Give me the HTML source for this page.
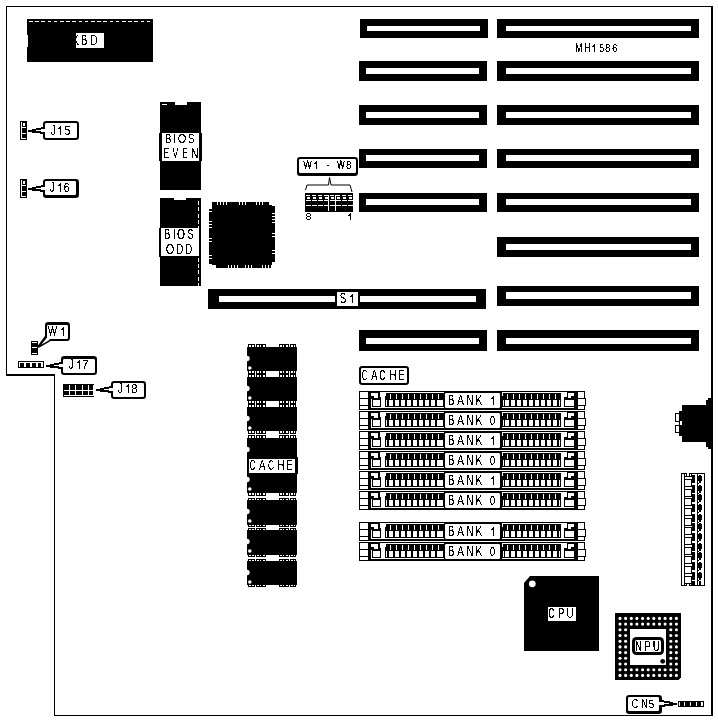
<!DOCTYPE html>
<html><head><meta charset="utf-8"><title>MH1586</title>
<style>
html,body{margin:0;padding:0;background:#fff;}
body{width:718px;height:721px;overflow:hidden;font-family:"Liberation Sans",sans-serif;}
svg{display:block;font-family:"Liberation Sans",sans-serif;}
</style></head><body>
<svg width="718" height="721" viewBox="0 0 718 721" shape-rendering="crispEdges">
<defs><filter id="th" x="0" y="0" width="718" height="721" filterUnits="userSpaceOnUse" color-interpolation-filters="sRGB"><feComponentTransfer><feFuncA type="discrete" tableValues="0 0 0 0 1 1 1 1 1"/></feComponentTransfer></filter></defs>
<rect x="0" y="0" width="718" height="721" fill="#fff"/>
<rect x="6" y="6" width="707" height="1" fill="#000" />
<rect x="6" y="6" width="1" height="369" fill="#000" />
<rect x="6" y="374" width="49" height="2" fill="#000" />
<rect x="54" y="374" width="1" height="342" fill="#000" />
<rect x="54" y="715" width="659" height="1" fill="#000" />
<rect x="711" y="6" width="2" height="710" fill="#000" />
<rect x="27" y="19" width="126" height="43" fill="#000" />
<rect x="29" y="21" width="3.6" height="1" fill="#fff" />
<rect x="35.2" y="21" width="3.6" height="1" fill="#fff" />
<rect x="41.4" y="21" width="3.6" height="1" fill="#fff" />
<rect x="47.6" y="21" width="3.6" height="1" fill="#fff" />
<rect x="53.8" y="21" width="3.6" height="1" fill="#fff" />
<rect x="60" y="21" width="3.6" height="1" fill="#fff" />
<rect x="66.2" y="21" width="3.6" height="1" fill="#fff" />
<rect x="72.4" y="21" width="3.6" height="1" fill="#fff" />
<rect x="78.6" y="21" width="3.6" height="1" fill="#fff" />
<rect x="84.8" y="21" width="3.6" height="1" fill="#fff" />
<rect x="91" y="21" width="3.6" height="1" fill="#fff" />
<rect x="97.2" y="21" width="3.6" height="1" fill="#fff" />
<rect x="103.4" y="21" width="3.6" height="1" fill="#fff" />
<rect x="109.6" y="21" width="3.6" height="1" fill="#fff" />
<rect x="115.8" y="21" width="3.6" height="1" fill="#fff" />
<rect x="122" y="21" width="3.6" height="1" fill="#fff" />
<rect x="128.2" y="21" width="3.6" height="1" fill="#fff" />
<rect x="134.4" y="21" width="3.6" height="1" fill="#fff" />
<rect x="140.6" y="21" width="3.6" height="1" fill="#fff" />
<rect x="146.8" y="21" width="3.6" height="1" fill="#fff" />
<rect x="27" y="35" width="1" height="12" fill="#fff" />
<rect x="76" y="33" width="28" height="15" fill="#fff" rx="1.5"/>
<rect x="70" y="33" width="6" height="15" fill="#000" />
<rect x="497" y="19" width="202" height="19" fill="#000" />
<rect x="506" y="25.5" width="185" height="5.5" fill="#fff" />
<rect x="497" y="61" width="202" height="19.5" fill="#000" />
<rect x="506" y="67.5" width="185" height="6.5" fill="#fff" />
<rect x="497" y="104.5" width="202" height="20" fill="#000" />
<rect x="506" y="111.5" width="185" height="6" fill="#fff" />
<rect x="497" y="148.5" width="202" height="19.5" fill="#000" />
<rect x="506" y="155" width="185" height="6" fill="#fff" />
<rect x="497" y="193" width="202" height="19" fill="#000" />
<rect x="506" y="199" width="185" height="6" fill="#fff" />
<rect x="497" y="237" width="202" height="19.5" fill="#000" />
<rect x="506" y="243.5" width="185" height="6.5" fill="#fff" />
<rect x="497" y="285.5" width="202" height="20" fill="#000" />
<rect x="506" y="292" width="185" height="7" fill="#fff" />
<rect x="497" y="330" width="202" height="20.5" fill="#000" />
<rect x="506" y="337.5" width="185" height="6.5" fill="#fff" />
<rect x="360" y="19" width="128" height="19" fill="#000" />
<rect x="366.7" y="25.5" width="113.3" height="5.5" fill="#fff" />
<rect x="359" y="61" width="128" height="19.5" fill="#000" />
<rect x="366" y="67.5" width="113.3" height="6.5" fill="#fff" />
<rect x="359" y="104.5" width="128" height="20" fill="#000" />
<rect x="366" y="111.5" width="113.3" height="6" fill="#fff" />
<rect x="359" y="148.5" width="128" height="19.5" fill="#000" />
<rect x="366" y="155" width="113.3" height="6" fill="#fff" />
<rect x="359" y="193" width="128" height="19" fill="#000" />
<rect x="366" y="199" width="113.3" height="6" fill="#fff" />
<rect x="359" y="330" width="128" height="20.5" fill="#000" />
<rect x="366" y="337.5" width="113.3" height="6.5" fill="#fff" />
<rect x="208" y="289" width="278.3" height="19.5" fill="#000" />
<rect x="218.5" y="295.5" width="257.2" height="6.5" fill="#fff" />
<rect x="335" y="291" width="25" height="16" fill="#000" />
<rect x="337" y="292" width="21" height="14" fill="#fff" rx="1.5"/>
<rect x="160" y="102" width="41" height="88" fill="#000" />
<rect x="175" y="102" width="12" height="3" fill="#fff" />
<rect x="162" y="104" width="5" height="1" fill="#fff" />
<rect x="159" y="132.5" width="43" height="28.5" fill="#000" />
<rect x="162" y="133" width="37" height="27.5" fill="#fff" />
<rect x="160" y="198" width="41" height="88" fill="#000" />
<rect x="174" y="198" width="12" height="2" fill="#fff" />
<rect x="198" y="201" width="1" height="4" fill="#fff" />
<rect x="198" y="207.3" width="1" height="4" fill="#fff" />
<rect x="198" y="213.6" width="1" height="4" fill="#fff" />
<rect x="198" y="219.9" width="1" height="4" fill="#fff" />
<rect x="198" y="226.2" width="1" height="4" fill="#fff" />
<rect x="198" y="232.5" width="1" height="4" fill="#fff" />
<rect x="198" y="238.8" width="1" height="4" fill="#fff" />
<rect x="198" y="245.1" width="1" height="4" fill="#fff" />
<rect x="198" y="251.4" width="1" height="4" fill="#fff" />
<rect x="198" y="257.7" width="1" height="4" fill="#fff" />
<rect x="198" y="264" width="1" height="4" fill="#fff" />
<rect x="198" y="270.3" width="1" height="4" fill="#fff" />
<rect x="198" y="276.6" width="1" height="4" fill="#fff" />
<rect x="198" y="282.9" width="1" height="4" fill="#fff" />
<rect x="159" y="227.5" width="42" height="29" fill="#000" />
<rect x="161" y="228" width="38" height="28" fill="#fff" />
<rect x="212" y="205" width="60" height="60" fill="#000" />
<rect x="212" y="202" width="57" height="3" fill="#000" />
<rect x="272" y="206" width="3" height="56" fill="#000" />
<rect x="215" y="265" width="56" height="3" fill="#000" />
<rect x="209" y="208" width="3" height="56" fill="#000" />
<rect x="217" y="202" width="1" height="3" fill="#fff" />
<rect x="220" y="202" width="1" height="3" fill="#fff" />
<rect x="223" y="202" width="1" height="3" fill="#fff" />
<rect x="226" y="202" width="1" height="3" fill="#fff" />
<rect x="239" y="202" width="1" height="3" fill="#fff" />
<rect x="242" y="202" width="1" height="3" fill="#fff" />
<rect x="245" y="202" width="1" height="3" fill="#fff" />
<rect x="256" y="202" width="1" height="3" fill="#fff" />
<rect x="259" y="202" width="1" height="3" fill="#fff" />
<rect x="262" y="202" width="1" height="3" fill="#fff" />
<rect x="215" y="265" width="1" height="3" fill="#fff" />
<rect x="228" y="265" width="1" height="3" fill="#fff" />
<rect x="231" y="265" width="1" height="3" fill="#fff" />
<rect x="234" y="265" width="1" height="3" fill="#fff" />
<rect x="237" y="265" width="1" height="3" fill="#fff" />
<rect x="245" y="265" width="1" height="3" fill="#fff" />
<rect x="248" y="265" width="1" height="3" fill="#fff" />
<rect x="251" y="265" width="1" height="3" fill="#fff" />
<rect x="262" y="265" width="1" height="3" fill="#fff" />
<rect x="265" y="265" width="1" height="3" fill="#fff" />
<rect x="268" y="265" width="1" height="3" fill="#fff" />
<rect x="271" y="265" width="1" height="3" fill="#fff" />
<rect x="209" y="208" width="3" height="1" fill="#fff" />
<rect x="209" y="211" width="3" height="1" fill="#fff" />
<rect x="209" y="221" width="3" height="1" fill="#fff" />
<rect x="209" y="224" width="3" height="1" fill="#fff" />
<rect x="209" y="227" width="3" height="1" fill="#fff" />
<rect x="209" y="238" width="3" height="1" fill="#fff" />
<rect x="209" y="241" width="3" height="1" fill="#fff" />
<rect x="209" y="255" width="3" height="1" fill="#fff" />
<rect x="209" y="258" width="3" height="1" fill="#fff" />
<rect x="272" y="213" width="3" height="1" fill="#fff" />
<rect x="272" y="216" width="3" height="1" fill="#fff" />
<rect x="272" y="219" width="3" height="1" fill="#fff" />
<rect x="272" y="222" width="3" height="1" fill="#fff" />
<rect x="272" y="233" width="3" height="1" fill="#fff" />
<rect x="272" y="236" width="3" height="1" fill="#fff" />
<rect x="272" y="250" width="3" height="1" fill="#fff" />
<rect x="272" y="253" width="3" height="1" fill="#fff" />
<rect x="297" y="157" width="61" height="19" fill="#000" rx="3.2" shape-rendering="auto"/>
<rect x="299" y="159" width="57" height="14" fill="#fff" rx="1.3" shape-rendering="auto"/>
<path d="M305.5 190 L307 185 H328.5 L329.5 177.5 L331 185 H350 L352 192" fill="none" stroke="#000" stroke-width="1" shape-rendering="auto"/>
<rect x="305" y="193" width="48" height="19" fill="#000" />
<rect x="306" y="194.5" width="4.2" height="1" fill="#fff" />
<rect x="307" y="196.5" width="2.5" height="2" fill="#fff" />
<rect x="306" y="199.5" width="4.5" height="1" fill="#fff" />
<rect x="306" y="205" width="4.5" height="1" fill="#fff" />
<rect x="312" y="194.5" width="4.2" height="1" fill="#fff" />
<rect x="313" y="196.5" width="2.5" height="2" fill="#fff" />
<rect x="312" y="199.5" width="4.5" height="1" fill="#fff" />
<rect x="312" y="205" width="4.5" height="1" fill="#fff" />
<rect x="318" y="194.5" width="4.2" height="1" fill="#fff" />
<rect x="319" y="196.5" width="2.5" height="2" fill="#fff" />
<rect x="318" y="199.5" width="4.5" height="1" fill="#fff" />
<rect x="318" y="205" width="4.5" height="1" fill="#fff" />
<rect x="324" y="194.5" width="4.2" height="1" fill="#fff" />
<rect x="325" y="196.5" width="2.5" height="2" fill="#fff" />
<rect x="324" y="199.5" width="4.5" height="1" fill="#fff" />
<rect x="324" y="205" width="4.5" height="1" fill="#fff" />
<rect x="330" y="194.5" width="4.2" height="1" fill="#fff" />
<rect x="331" y="196.5" width="2.5" height="2" fill="#fff" />
<rect x="330" y="199.5" width="4.5" height="1" fill="#fff" />
<rect x="330" y="205" width="4.5" height="1" fill="#fff" />
<rect x="336" y="194.5" width="4.2" height="1" fill="#fff" />
<rect x="337" y="196.5" width="2.5" height="2" fill="#fff" />
<rect x="336" y="199.5" width="4.5" height="1" fill="#fff" />
<rect x="336" y="205" width="4.5" height="1" fill="#fff" />
<rect x="342" y="194.5" width="4.2" height="1" fill="#fff" />
<rect x="343" y="196.5" width="2.5" height="2" fill="#fff" />
<rect x="342" y="199.5" width="4.5" height="1" fill="#fff" />
<rect x="342" y="205" width="4.5" height="1" fill="#fff" />
<rect x="348" y="194.5" width="4.2" height="1" fill="#fff" />
<rect x="349" y="196.5" width="2.5" height="2" fill="#fff" />
<rect x="348" y="199.5" width="4.5" height="1" fill="#fff" />
<rect x="348" y="205" width="4.5" height="1" fill="#fff" />
<rect x="328" y="195" width="1" height="16" fill="#fff" />
<rect x="334.5" y="195" width="1" height="16" fill="#fff" />
<rect x="20" y="121" width="7" height="19" fill="#000" />
<rect x="21" y="122" width="1" height="17" fill="#fff" />
<rect x="23" y="123" width="2" height="3" fill="#fff" />
<rect x="22" y="127" width="4" height="1" fill="#fff" />
<rect x="22" y="133" width="4" height="1" fill="#fff" />
<rect x="22" y="138" width="4" height="1" fill="#fff" />
<rect x="43" y="121" width="36" height="19" fill="#000" rx="3.2" shape-rendering="auto"/>
<rect x="45" y="123" width="32" height="15" fill="#fff" rx="1.3" shape-rendering="auto"/>
<rect x="28" y="130" width="4" height="2" fill="#000" />
<rect x="32" y="129" width="4" height="4" fill="#000" />
<rect x="35.5" y="128" width="5.5" height="2" fill="#000" />
<rect x="41" y="127" width="4" height="2" fill="#000" />
<rect x="35.5" y="131" width="6.5" height="2" fill="#000" />
<rect x="40" y="132" width="5" height="2" fill="#000" />
<rect x="36" y="130" width="5" height="1" fill="#fff" />
<rect x="41" y="129" width="4.6" height="3" fill="#fff" />
<rect x="20" y="179" width="7" height="19" fill="#000" />
<rect x="21" y="180" width="1" height="17" fill="#fff" />
<rect x="23" y="181" width="2" height="3" fill="#fff" />
<rect x="22" y="185" width="4" height="1" fill="#fff" />
<rect x="22" y="191" width="4" height="1" fill="#fff" />
<rect x="22" y="196" width="4" height="1" fill="#fff" />
<rect x="43" y="179" width="36" height="19" fill="#000" rx="3.2" shape-rendering="auto"/>
<rect x="45" y="181" width="31" height="14" fill="#fff" rx="1.3" shape-rendering="auto"/>
<rect x="28" y="188" width="4" height="2" fill="#000" />
<rect x="32" y="187" width="4" height="4" fill="#000" />
<rect x="35.5" y="186" width="5.5" height="2" fill="#000" />
<rect x="41" y="185" width="4" height="2" fill="#000" />
<rect x="35.5" y="189" width="6.5" height="2" fill="#000" />
<rect x="40" y="190" width="5" height="2" fill="#000" />
<rect x="36" y="188" width="5" height="1" fill="#fff" />
<rect x="41" y="187" width="4.6" height="3" fill="#fff" />
<rect x="31" y="341" width="7" height="14" fill="#000" />
<rect x="32" y="342" width="5" height="1" fill="#fff" />
<rect x="32" y="347" width="5" height="1" fill="#fff" />
<rect x="32" y="353" width="5" height="1" fill="#fff" />
<path d="M45.3 335.5 L37.6 346 L38.6 348 L52 340.3 Z" fill="#000" shape-rendering="auto"/>
<rect x="45" y="322" width="25" height="19" fill="#000" rx="3.2" shape-rendering="auto"/>
<rect x="47" y="325" width="21" height="14" fill="#fff" rx="1.3" shape-rendering="auto"/>
<path d="M47 337.5 L41.3 344.7 L49.5 340 L49 337.5 Z" fill="#fff" shape-rendering="auto"/>
<rect x="18" y="361" width="26" height="7" fill="#000" />
<rect x="19" y="362" width="24" height="5" fill="#fff" />
<rect x="20" y="363" width="4" height="5" fill="#000" />
<rect x="26" y="363" width="4" height="5" fill="#000" />
<rect x="32" y="363" width="4" height="5" fill="#000" />
<rect x="38" y="363" width="3" height="5" fill="#000" />
<rect x="61" y="356" width="36" height="19" fill="#000" rx="3.2" shape-rendering="auto"/>
<rect x="63" y="359" width="32" height="14" fill="#fff" rx="1.3" shape-rendering="auto"/>
<rect x="46" y="365" width="4" height="2" fill="#000" />
<rect x="50" y="364" width="4" height="4" fill="#000" />
<rect x="53.5" y="363" width="5.5" height="2" fill="#000" />
<rect x="59" y="362" width="4" height="2" fill="#000" />
<rect x="53.5" y="366" width="6.5" height="2" fill="#000" />
<rect x="58" y="367" width="5" height="2" fill="#000" />
<rect x="54" y="365" width="5" height="1" fill="#fff" />
<rect x="59" y="364" width="4.6" height="3" fill="#fff" />
<rect x="63" y="384" width="31" height="13" fill="#000" />
<rect x="69" y="385" width="1" height="11" fill="#fff" />
<rect x="75.2" y="385" width="1" height="11" fill="#fff" />
<rect x="81.5" y="385" width="1" height="11" fill="#fff" />
<rect x="87.7" y="385" width="1" height="11" fill="#fff" />
<rect x="92.5" y="385" width="1" height="11" fill="#fff" />
<rect x="64" y="390" width="29" height="1" fill="#fff" />
<rect x="64" y="395" width="29" height="1" fill="#fff" />
<rect x="111" y="381" width="35" height="18" fill="#000" rx="3.2" shape-rendering="auto"/>
<rect x="113" y="383" width="31" height="14" fill="#fff" rx="1.3" shape-rendering="auto"/>
<rect x="96" y="389" width="4" height="2" fill="#000" />
<rect x="100" y="388" width="4" height="4" fill="#000" />
<rect x="103.5" y="387" width="5.5" height="2" fill="#000" />
<rect x="109" y="386" width="4" height="2" fill="#000" />
<rect x="103.5" y="390" width="6.5" height="2" fill="#000" />
<rect x="108" y="391" width="5" height="2" fill="#000" />
<rect x="104" y="389" width="5" height="1" fill="#fff" />
<rect x="109" y="388" width="4.6" height="3" fill="#fff" />
<rect x="247" y="347" width="50" height="24" fill="#000" />
<rect x="248" y="344" width="7" height="3" fill="#000" />
<rect x="248" y="371" width="7" height="3" fill="#000" />
<rect x="248.75" y="345" width="2" height="2" fill="#fff" />
<rect x="248.75" y="371" width="2" height="2" fill="#fff" />
<rect x="252.25" y="345" width="1.4" height="2" fill="#fff" />
<rect x="252.25" y="371" width="1.4" height="2" fill="#fff" />
<rect x="256" y="344" width="10" height="3" fill="#000" />
<rect x="256" y="371" width="10" height="3" fill="#000" />
<rect x="256.667" y="345" width="2" height="2" fill="#fff" />
<rect x="256.667" y="371" width="2" height="2" fill="#fff" />
<rect x="260" y="345" width="1.4" height="2" fill="#fff" />
<rect x="260" y="371" width="1.4" height="2" fill="#fff" />
<rect x="263.333" y="345" width="2" height="2" fill="#fff" />
<rect x="263.333" y="371" width="2" height="2" fill="#fff" />
<rect x="279" y="344" width="10" height="3" fill="#000" />
<rect x="279" y="371" width="10" height="3" fill="#000" />
<rect x="279.667" y="345" width="2" height="2" fill="#fff" />
<rect x="279.667" y="371" width="2" height="2" fill="#fff" />
<rect x="283" y="345" width="1.4" height="2" fill="#fff" />
<rect x="283" y="371" width="1.4" height="2" fill="#fff" />
<rect x="286.333" y="345" width="2" height="2" fill="#fff" />
<rect x="286.333" y="371" width="2" height="2" fill="#fff" />
<rect x="290" y="344" width="6" height="3" fill="#000" />
<rect x="290" y="371" width="6" height="3" fill="#000" />
<rect x="290.5" y="345" width="2" height="2" fill="#fff" />
<rect x="290.5" y="371" width="2" height="2" fill="#fff" />
<rect x="293.5" y="345" width="1.4" height="2" fill="#fff" />
<rect x="293.5" y="371" width="1.4" height="2" fill="#fff" />
<circle cx="247" cy="358.5" r="2.7" fill="#fff" shape-rendering="auto"/>
<circle cx="249.8" cy="368" r="1.8" fill="#fff" shape-rendering="auto"/>
<rect x="247" y="377" width="50" height="24" fill="#000" />
<rect x="248" y="374" width="7" height="3" fill="#000" />
<rect x="248" y="401" width="7" height="3" fill="#000" />
<rect x="248.75" y="375" width="2" height="2" fill="#fff" />
<rect x="248.75" y="401" width="2" height="2" fill="#fff" />
<rect x="252.25" y="375" width="1.4" height="2" fill="#fff" />
<rect x="252.25" y="401" width="1.4" height="2" fill="#fff" />
<rect x="256" y="374" width="10" height="3" fill="#000" />
<rect x="256" y="401" width="10" height="3" fill="#000" />
<rect x="256.667" y="375" width="2" height="2" fill="#fff" />
<rect x="256.667" y="401" width="2" height="2" fill="#fff" />
<rect x="260" y="375" width="1.4" height="2" fill="#fff" />
<rect x="260" y="401" width="1.4" height="2" fill="#fff" />
<rect x="263.333" y="375" width="2" height="2" fill="#fff" />
<rect x="263.333" y="401" width="2" height="2" fill="#fff" />
<rect x="279" y="374" width="10" height="3" fill="#000" />
<rect x="279" y="401" width="10" height="3" fill="#000" />
<rect x="279.667" y="375" width="2" height="2" fill="#fff" />
<rect x="279.667" y="401" width="2" height="2" fill="#fff" />
<rect x="283" y="375" width="1.4" height="2" fill="#fff" />
<rect x="283" y="401" width="1.4" height="2" fill="#fff" />
<rect x="286.333" y="375" width="2" height="2" fill="#fff" />
<rect x="286.333" y="401" width="2" height="2" fill="#fff" />
<rect x="290" y="374" width="6" height="3" fill="#000" />
<rect x="290" y="401" width="6" height="3" fill="#000" />
<rect x="290.5" y="375" width="2" height="2" fill="#fff" />
<rect x="290.5" y="401" width="2" height="2" fill="#fff" />
<rect x="293.5" y="375" width="1.4" height="2" fill="#fff" />
<rect x="293.5" y="401" width="1.4" height="2" fill="#fff" />
<circle cx="247" cy="388.5" r="2.7" fill="#fff" shape-rendering="auto"/>
<circle cx="249.8" cy="398" r="1.8" fill="#fff" shape-rendering="auto"/>
<rect x="247" y="407" width="50" height="24" fill="#000" />
<rect x="248" y="404" width="7" height="3" fill="#000" />
<rect x="248" y="431" width="7" height="3" fill="#000" />
<rect x="248.75" y="405" width="2" height="2" fill="#fff" />
<rect x="248.75" y="431" width="2" height="2" fill="#fff" />
<rect x="252.25" y="405" width="1.4" height="2" fill="#fff" />
<rect x="252.25" y="431" width="1.4" height="2" fill="#fff" />
<rect x="256" y="404" width="10" height="3" fill="#000" />
<rect x="256" y="431" width="10" height="3" fill="#000" />
<rect x="256.667" y="405" width="2" height="2" fill="#fff" />
<rect x="256.667" y="431" width="2" height="2" fill="#fff" />
<rect x="260" y="405" width="1.4" height="2" fill="#fff" />
<rect x="260" y="431" width="1.4" height="2" fill="#fff" />
<rect x="263.333" y="405" width="2" height="2" fill="#fff" />
<rect x="263.333" y="431" width="2" height="2" fill="#fff" />
<rect x="279" y="404" width="10" height="3" fill="#000" />
<rect x="279" y="431" width="10" height="3" fill="#000" />
<rect x="279.667" y="405" width="2" height="2" fill="#fff" />
<rect x="279.667" y="431" width="2" height="2" fill="#fff" />
<rect x="283" y="405" width="1.4" height="2" fill="#fff" />
<rect x="283" y="431" width="1.4" height="2" fill="#fff" />
<rect x="286.333" y="405" width="2" height="2" fill="#fff" />
<rect x="286.333" y="431" width="2" height="2" fill="#fff" />
<rect x="290" y="404" width="6" height="3" fill="#000" />
<rect x="290" y="431" width="6" height="3" fill="#000" />
<rect x="290.5" y="405" width="2" height="2" fill="#fff" />
<rect x="290.5" y="431" width="2" height="2" fill="#fff" />
<rect x="293.5" y="405" width="1.4" height="2" fill="#fff" />
<rect x="293.5" y="431" width="1.4" height="2" fill="#fff" />
<circle cx="247" cy="418.5" r="2.7" fill="#fff" shape-rendering="auto"/>
<circle cx="249.8" cy="428" r="1.8" fill="#fff" shape-rendering="auto"/>
<rect x="247" y="438" width="50" height="24" fill="#000" />
<rect x="248" y="435" width="7" height="3" fill="#000" />
<rect x="248" y="462" width="7" height="3" fill="#000" />
<rect x="248.75" y="436" width="2" height="2" fill="#fff" />
<rect x="248.75" y="462" width="2" height="2" fill="#fff" />
<rect x="252.25" y="436" width="1.4" height="2" fill="#fff" />
<rect x="252.25" y="462" width="1.4" height="2" fill="#fff" />
<rect x="256" y="435" width="10" height="3" fill="#000" />
<rect x="256" y="462" width="10" height="3" fill="#000" />
<rect x="256.667" y="436" width="2" height="2" fill="#fff" />
<rect x="256.667" y="462" width="2" height="2" fill="#fff" />
<rect x="260" y="436" width="1.4" height="2" fill="#fff" />
<rect x="260" y="462" width="1.4" height="2" fill="#fff" />
<rect x="263.333" y="436" width="2" height="2" fill="#fff" />
<rect x="263.333" y="462" width="2" height="2" fill="#fff" />
<rect x="279" y="435" width="10" height="3" fill="#000" />
<rect x="279" y="462" width="10" height="3" fill="#000" />
<rect x="279.667" y="436" width="2" height="2" fill="#fff" />
<rect x="279.667" y="462" width="2" height="2" fill="#fff" />
<rect x="283" y="436" width="1.4" height="2" fill="#fff" />
<rect x="283" y="462" width="1.4" height="2" fill="#fff" />
<rect x="286.333" y="436" width="2" height="2" fill="#fff" />
<rect x="286.333" y="462" width="2" height="2" fill="#fff" />
<rect x="290" y="435" width="6" height="3" fill="#000" />
<rect x="290" y="462" width="6" height="3" fill="#000" />
<rect x="290.5" y="436" width="2" height="2" fill="#fff" />
<rect x="290.5" y="462" width="2" height="2" fill="#fff" />
<rect x="293.5" y="436" width="1.4" height="2" fill="#fff" />
<rect x="293.5" y="462" width="1.4" height="2" fill="#fff" />
<circle cx="247" cy="449.5" r="2.7" fill="#fff" shape-rendering="auto"/>
<circle cx="249.8" cy="459" r="1.8" fill="#fff" shape-rendering="auto"/>
<rect x="247" y="468" width="50" height="25" fill="#000" />
<rect x="248" y="465" width="7" height="3" fill="#000" />
<rect x="248" y="493" width="7" height="3" fill="#000" />
<rect x="248.75" y="466" width="2" height="2" fill="#fff" />
<rect x="248.75" y="493" width="2" height="2" fill="#fff" />
<rect x="252.25" y="466" width="1.4" height="2" fill="#fff" />
<rect x="252.25" y="493" width="1.4" height="2" fill="#fff" />
<rect x="256" y="465" width="10" height="3" fill="#000" />
<rect x="256" y="493" width="10" height="3" fill="#000" />
<rect x="256.667" y="466" width="2" height="2" fill="#fff" />
<rect x="256.667" y="493" width="2" height="2" fill="#fff" />
<rect x="260" y="466" width="1.4" height="2" fill="#fff" />
<rect x="260" y="493" width="1.4" height="2" fill="#fff" />
<rect x="263.333" y="466" width="2" height="2" fill="#fff" />
<rect x="263.333" y="493" width="2" height="2" fill="#fff" />
<rect x="279" y="465" width="10" height="3" fill="#000" />
<rect x="279" y="493" width="10" height="3" fill="#000" />
<rect x="279.667" y="466" width="2" height="2" fill="#fff" />
<rect x="279.667" y="493" width="2" height="2" fill="#fff" />
<rect x="283" y="466" width="1.4" height="2" fill="#fff" />
<rect x="283" y="493" width="1.4" height="2" fill="#fff" />
<rect x="286.333" y="466" width="2" height="2" fill="#fff" />
<rect x="286.333" y="493" width="2" height="2" fill="#fff" />
<rect x="290" y="465" width="6" height="3" fill="#000" />
<rect x="290" y="493" width="6" height="3" fill="#000" />
<rect x="290.5" y="466" width="2" height="2" fill="#fff" />
<rect x="290.5" y="493" width="2" height="2" fill="#fff" />
<rect x="293.5" y="466" width="1.4" height="2" fill="#fff" />
<rect x="293.5" y="493" width="1.4" height="2" fill="#fff" />
<circle cx="247" cy="479.5" r="2.7" fill="#fff" shape-rendering="auto"/>
<circle cx="249.8" cy="489" r="1.8" fill="#fff" shape-rendering="auto"/>
<rect x="247" y="500" width="50" height="25" fill="#000" />
<rect x="248" y="498" width="7" height="2" fill="#000" />
<rect x="248" y="525" width="7" height="2" fill="#000" />
<rect x="248.75" y="499" width="2" height="1" fill="#fff" />
<rect x="248.75" y="525" width="2" height="1" fill="#fff" />
<rect x="252.25" y="499" width="1.4" height="1" fill="#fff" />
<rect x="252.25" y="525" width="1.4" height="1" fill="#fff" />
<rect x="256" y="498" width="10" height="2" fill="#000" />
<rect x="256" y="525" width="10" height="2" fill="#000" />
<rect x="256.667" y="499" width="2" height="1" fill="#fff" />
<rect x="256.667" y="525" width="2" height="1" fill="#fff" />
<rect x="260" y="499" width="1.4" height="1" fill="#fff" />
<rect x="260" y="525" width="1.4" height="1" fill="#fff" />
<rect x="263.333" y="499" width="2" height="1" fill="#fff" />
<rect x="263.333" y="525" width="2" height="1" fill="#fff" />
<rect x="279" y="498" width="10" height="2" fill="#000" />
<rect x="279" y="525" width="10" height="2" fill="#000" />
<rect x="279.667" y="499" width="2" height="1" fill="#fff" />
<rect x="279.667" y="525" width="2" height="1" fill="#fff" />
<rect x="283" y="499" width="1.4" height="1" fill="#fff" />
<rect x="283" y="525" width="1.4" height="1" fill="#fff" />
<rect x="286.333" y="499" width="2" height="1" fill="#fff" />
<rect x="286.333" y="525" width="2" height="1" fill="#fff" />
<rect x="290" y="498" width="6" height="2" fill="#000" />
<rect x="290" y="525" width="6" height="2" fill="#000" />
<rect x="290.5" y="499" width="2" height="1" fill="#fff" />
<rect x="290.5" y="525" width="2" height="1" fill="#fff" />
<rect x="293.5" y="499" width="1.4" height="1" fill="#fff" />
<rect x="293.5" y="525" width="1.4" height="1" fill="#fff" />
<circle cx="247" cy="511.5" r="2.7" fill="#fff" shape-rendering="auto"/>
<circle cx="249.8" cy="521" r="1.8" fill="#fff" shape-rendering="auto"/>
<rect x="247" y="530" width="50" height="25" fill="#000" />
<rect x="248" y="528" width="7" height="2" fill="#000" />
<rect x="248" y="555" width="7" height="2" fill="#000" />
<rect x="248.75" y="529" width="2" height="1" fill="#fff" />
<rect x="248.75" y="555" width="2" height="1" fill="#fff" />
<rect x="252.25" y="529" width="1.4" height="1" fill="#fff" />
<rect x="252.25" y="555" width="1.4" height="1" fill="#fff" />
<rect x="256" y="528" width="10" height="2" fill="#000" />
<rect x="256" y="555" width="10" height="2" fill="#000" />
<rect x="256.667" y="529" width="2" height="1" fill="#fff" />
<rect x="256.667" y="555" width="2" height="1" fill="#fff" />
<rect x="260" y="529" width="1.4" height="1" fill="#fff" />
<rect x="260" y="555" width="1.4" height="1" fill="#fff" />
<rect x="263.333" y="529" width="2" height="1" fill="#fff" />
<rect x="263.333" y="555" width="2" height="1" fill="#fff" />
<rect x="279" y="528" width="10" height="2" fill="#000" />
<rect x="279" y="555" width="10" height="2" fill="#000" />
<rect x="279.667" y="529" width="2" height="1" fill="#fff" />
<rect x="279.667" y="555" width="2" height="1" fill="#fff" />
<rect x="283" y="529" width="1.4" height="1" fill="#fff" />
<rect x="283" y="555" width="1.4" height="1" fill="#fff" />
<rect x="286.333" y="529" width="2" height="1" fill="#fff" />
<rect x="286.333" y="555" width="2" height="1" fill="#fff" />
<rect x="290" y="528" width="6" height="2" fill="#000" />
<rect x="290" y="555" width="6" height="2" fill="#000" />
<rect x="290.5" y="529" width="2" height="1" fill="#fff" />
<rect x="290.5" y="555" width="2" height="1" fill="#fff" />
<rect x="293.5" y="529" width="1.4" height="1" fill="#fff" />
<rect x="293.5" y="555" width="1.4" height="1" fill="#fff" />
<circle cx="247" cy="541.5" r="2.7" fill="#fff" shape-rendering="auto"/>
<circle cx="249.8" cy="551" r="1.8" fill="#fff" shape-rendering="auto"/>
<rect x="247" y="561" width="50" height="24" fill="#000" />
<rect x="248" y="559" width="7" height="2" fill="#000" />
<rect x="248" y="585" width="7" height="2" fill="#000" />
<rect x="248.75" y="560" width="2" height="1" fill="#fff" />
<rect x="248.75" y="585" width="2" height="1" fill="#fff" />
<rect x="252.25" y="560" width="1.4" height="1" fill="#fff" />
<rect x="252.25" y="585" width="1.4" height="1" fill="#fff" />
<rect x="256" y="559" width="10" height="2" fill="#000" />
<rect x="256" y="585" width="10" height="2" fill="#000" />
<rect x="256.667" y="560" width="2" height="1" fill="#fff" />
<rect x="256.667" y="585" width="2" height="1" fill="#fff" />
<rect x="260" y="560" width="1.4" height="1" fill="#fff" />
<rect x="260" y="585" width="1.4" height="1" fill="#fff" />
<rect x="263.333" y="560" width="2" height="1" fill="#fff" />
<rect x="263.333" y="585" width="2" height="1" fill="#fff" />
<rect x="279" y="559" width="10" height="2" fill="#000" />
<rect x="279" y="585" width="10" height="2" fill="#000" />
<rect x="279.667" y="560" width="2" height="1" fill="#fff" />
<rect x="279.667" y="585" width="2" height="1" fill="#fff" />
<rect x="283" y="560" width="1.4" height="1" fill="#fff" />
<rect x="283" y="585" width="1.4" height="1" fill="#fff" />
<rect x="286.333" y="560" width="2" height="1" fill="#fff" />
<rect x="286.333" y="585" width="2" height="1" fill="#fff" />
<rect x="290" y="559" width="6" height="2" fill="#000" />
<rect x="290" y="585" width="6" height="2" fill="#000" />
<rect x="290.5" y="560" width="2" height="1" fill="#fff" />
<rect x="290.5" y="585" width="2" height="1" fill="#fff" />
<rect x="293.5" y="560" width="1.4" height="1" fill="#fff" />
<rect x="293.5" y="585" width="1.4" height="1" fill="#fff" />
<circle cx="247" cy="572.5" r="2.7" fill="#fff" shape-rendering="auto"/>
<circle cx="249.8" cy="582" r="1.8" fill="#fff" shape-rendering="auto"/>
<rect x="247" y="457" width="51" height="17" fill="#000" />
<rect x="249" y="459" width="46" height="14" fill="#fff" rx="1.5"/>
<rect x="359" y="366" width="50" height="19" fill="#000" rx="3.2" shape-rendering="auto"/>
<rect x="361" y="368" width="46" height="15" fill="#fff" rx="1.3" shape-rendering="auto"/>
<rect x="359" y="391" width="226" height="19" fill="#000" />
<rect x="360" y="392" width="224" height="17" fill="#fff" />
<rect x="369" y="408" width="208" height="1" fill="#000" />
<rect x="359" y="398" width="10" height="1" fill="#000" />
<rect x="359" y="405" width="10" height="1" fill="#000" />
<rect x="368" y="391" width="3" height="18" fill="#000" />
<rect x="574" y="391" width="4" height="18" fill="#000" />
<rect x="577" y="398" width="9" height="1" fill="#000" />
<rect x="577" y="405" width="9" height="1" fill="#000" />
<rect x="585" y="398" width="1" height="8" fill="#000" />
<rect x="584" y="399" width="1" height="6" fill="#fff" />
<rect x="371" y="392" width="9" height="7" fill="#000" />
<rect x="372" y="397" width="9" height="10" fill="#000" />
<rect x="371" y="393" width="7" height="3" fill="#fff" />
<rect x="374" y="396" width="4" height="2" fill="#fff" />
<rect x="373" y="400" width="7" height="6" fill="#fff" />
<rect x="567" y="392" width="8" height="7" fill="#000" />
<rect x="564" y="397" width="11" height="10" fill="#000" />
<rect x="568" y="393" width="6" height="3" fill="#fff" />
<rect x="568" y="396" width="3" height="2" fill="#fff" />
<rect x="565" y="400" width="9" height="6" fill="#fff" />
<rect x="386" y="393" width="58" height="7" fill="#000" />
<rect x="385" y="396" width="59" height="11" fill="#000" />
<rect x="389" y="400" width="4" height="6" fill="#fff" />
<rect x="390" y="394" width="1" height="5" fill="#fff" />
<rect x="395" y="400" width="4" height="6" fill="#fff" />
<rect x="396" y="394" width="1" height="5" fill="#fff" />
<rect x="401" y="400" width="4" height="6" fill="#fff" />
<rect x="402" y="394" width="1" height="5" fill="#fff" />
<rect x="407" y="400" width="4" height="6" fill="#fff" />
<rect x="408" y="394" width="1" height="5" fill="#fff" />
<rect x="413" y="400" width="4" height="6" fill="#fff" />
<rect x="414" y="394" width="1" height="5" fill="#fff" />
<rect x="419" y="400" width="4" height="6" fill="#fff" />
<rect x="420" y="394" width="1" height="5" fill="#fff" />
<rect x="425" y="400" width="4" height="6" fill="#fff" />
<rect x="426" y="394" width="1" height="5" fill="#fff" />
<rect x="431" y="400" width="4" height="6" fill="#fff" />
<rect x="432" y="394" width="1" height="5" fill="#fff" />
<rect x="437" y="400" width="4" height="6" fill="#fff" />
<rect x="438" y="394" width="1" height="5" fill="#fff" />
<rect x="386" y="400" width="1" height="6" fill="#fff" />
<rect x="441" y="400" width="2" height="6" fill="#fff" />
<rect x="503" y="393" width="58" height="7" fill="#000" />
<rect x="502" y="396" width="59" height="11" fill="#000" />
<rect x="505" y="400" width="4" height="6" fill="#fff" />
<rect x="507" y="394" width="1" height="5" fill="#fff" />
<rect x="511" y="400" width="4" height="6" fill="#fff" />
<rect x="513" y="394" width="1" height="5" fill="#fff" />
<rect x="517" y="400" width="4" height="6" fill="#fff" />
<rect x="519" y="394" width="1" height="5" fill="#fff" />
<rect x="523" y="400" width="4" height="6" fill="#fff" />
<rect x="525" y="394" width="1" height="5" fill="#fff" />
<rect x="529" y="400" width="4" height="6" fill="#fff" />
<rect x="531" y="394" width="1" height="5" fill="#fff" />
<rect x="535" y="400" width="4" height="6" fill="#fff" />
<rect x="537" y="394" width="1" height="5" fill="#fff" />
<rect x="541" y="400" width="4" height="6" fill="#fff" />
<rect x="543" y="394" width="1" height="5" fill="#fff" />
<rect x="547" y="400" width="4" height="6" fill="#fff" />
<rect x="549" y="394" width="1" height="5" fill="#fff" />
<rect x="553" y="400" width="4" height="6" fill="#fff" />
<rect x="555" y="394" width="1" height="5" fill="#fff" />
<rect x="503" y="400" width="1" height="6" fill="#fff" />
<rect x="559" y="400" width="1" height="6" fill="#fff" />
<rect x="444" y="391" width="58" height="19" fill="#000" />
<rect x="445" y="393" width="55" height="15" fill="#fff" rx="1.2" shape-rendering="auto"/>
<rect x="359" y="411" width="226" height="19" fill="#000" />
<rect x="360" y="412" width="224" height="17" fill="#fff" />
<rect x="369" y="428" width="208" height="1" fill="#000" />
<rect x="359" y="418" width="10" height="1" fill="#000" />
<rect x="359" y="425" width="10" height="1" fill="#000" />
<rect x="368" y="411" width="3" height="18" fill="#000" />
<rect x="574" y="411" width="4" height="18" fill="#000" />
<rect x="577" y="418" width="9" height="1" fill="#000" />
<rect x="577" y="425" width="9" height="1" fill="#000" />
<rect x="585" y="418" width="1" height="8" fill="#000" />
<rect x="584" y="419" width="1" height="6" fill="#fff" />
<rect x="371" y="412" width="9" height="7" fill="#000" />
<rect x="372" y="417" width="9" height="10" fill="#000" />
<rect x="371" y="413" width="7" height="3" fill="#fff" />
<rect x="374" y="416" width="4" height="2" fill="#fff" />
<rect x="373" y="420" width="7" height="6" fill="#fff" />
<rect x="567" y="412" width="8" height="7" fill="#000" />
<rect x="564" y="417" width="11" height="10" fill="#000" />
<rect x="568" y="413" width="6" height="3" fill="#fff" />
<rect x="568" y="416" width="3" height="2" fill="#fff" />
<rect x="565" y="420" width="9" height="6" fill="#fff" />
<rect x="386" y="413" width="58" height="7" fill="#000" />
<rect x="385" y="416" width="59" height="11" fill="#000" />
<rect x="389" y="420" width="4" height="6" fill="#fff" />
<rect x="390" y="414" width="1" height="5" fill="#fff" />
<rect x="395" y="420" width="4" height="6" fill="#fff" />
<rect x="396" y="414" width="1" height="5" fill="#fff" />
<rect x="401" y="420" width="4" height="6" fill="#fff" />
<rect x="402" y="414" width="1" height="5" fill="#fff" />
<rect x="407" y="420" width="4" height="6" fill="#fff" />
<rect x="408" y="414" width="1" height="5" fill="#fff" />
<rect x="413" y="420" width="4" height="6" fill="#fff" />
<rect x="414" y="414" width="1" height="5" fill="#fff" />
<rect x="419" y="420" width="4" height="6" fill="#fff" />
<rect x="420" y="414" width="1" height="5" fill="#fff" />
<rect x="425" y="420" width="4" height="6" fill="#fff" />
<rect x="426" y="414" width="1" height="5" fill="#fff" />
<rect x="431" y="420" width="4" height="6" fill="#fff" />
<rect x="432" y="414" width="1" height="5" fill="#fff" />
<rect x="437" y="420" width="4" height="6" fill="#fff" />
<rect x="438" y="414" width="1" height="5" fill="#fff" />
<rect x="386" y="420" width="1" height="6" fill="#fff" />
<rect x="441" y="420" width="2" height="6" fill="#fff" />
<rect x="503" y="413" width="58" height="7" fill="#000" />
<rect x="502" y="416" width="59" height="11" fill="#000" />
<rect x="505" y="420" width="4" height="6" fill="#fff" />
<rect x="507" y="414" width="1" height="5" fill="#fff" />
<rect x="511" y="420" width="4" height="6" fill="#fff" />
<rect x="513" y="414" width="1" height="5" fill="#fff" />
<rect x="517" y="420" width="4" height="6" fill="#fff" />
<rect x="519" y="414" width="1" height="5" fill="#fff" />
<rect x="523" y="420" width="4" height="6" fill="#fff" />
<rect x="525" y="414" width="1" height="5" fill="#fff" />
<rect x="529" y="420" width="4" height="6" fill="#fff" />
<rect x="531" y="414" width="1" height="5" fill="#fff" />
<rect x="535" y="420" width="4" height="6" fill="#fff" />
<rect x="537" y="414" width="1" height="5" fill="#fff" />
<rect x="541" y="420" width="4" height="6" fill="#fff" />
<rect x="543" y="414" width="1" height="5" fill="#fff" />
<rect x="547" y="420" width="4" height="6" fill="#fff" />
<rect x="549" y="414" width="1" height="5" fill="#fff" />
<rect x="553" y="420" width="4" height="6" fill="#fff" />
<rect x="555" y="414" width="1" height="5" fill="#fff" />
<rect x="503" y="420" width="1" height="6" fill="#fff" />
<rect x="559" y="420" width="1" height="6" fill="#fff" />
<rect x="444" y="411" width="58" height="19" fill="#000" />
<rect x="445" y="413" width="55" height="15" fill="#fff" rx="1.2" shape-rendering="auto"/>
<rect x="359" y="431" width="226" height="19" fill="#000" />
<rect x="360" y="432" width="224" height="17" fill="#fff" />
<rect x="369" y="448" width="208" height="1" fill="#000" />
<rect x="359" y="438" width="10" height="1" fill="#000" />
<rect x="359" y="445" width="10" height="1" fill="#000" />
<rect x="368" y="431" width="3" height="18" fill="#000" />
<rect x="574" y="431" width="4" height="18" fill="#000" />
<rect x="577" y="438" width="9" height="1" fill="#000" />
<rect x="577" y="445" width="9" height="1" fill="#000" />
<rect x="585" y="438" width="1" height="8" fill="#000" />
<rect x="584" y="439" width="1" height="6" fill="#fff" />
<rect x="371" y="432" width="9" height="7" fill="#000" />
<rect x="372" y="437" width="9" height="10" fill="#000" />
<rect x="371" y="433" width="7" height="3" fill="#fff" />
<rect x="374" y="436" width="4" height="2" fill="#fff" />
<rect x="373" y="440" width="7" height="6" fill="#fff" />
<rect x="567" y="432" width="8" height="7" fill="#000" />
<rect x="564" y="437" width="11" height="10" fill="#000" />
<rect x="568" y="433" width="6" height="3" fill="#fff" />
<rect x="568" y="436" width="3" height="2" fill="#fff" />
<rect x="565" y="440" width="9" height="6" fill="#fff" />
<rect x="386" y="433" width="58" height="7" fill="#000" />
<rect x="385" y="436" width="59" height="11" fill="#000" />
<rect x="389" y="440" width="4" height="6" fill="#fff" />
<rect x="390" y="434" width="1" height="5" fill="#fff" />
<rect x="395" y="440" width="4" height="6" fill="#fff" />
<rect x="396" y="434" width="1" height="5" fill="#fff" />
<rect x="401" y="440" width="4" height="6" fill="#fff" />
<rect x="402" y="434" width="1" height="5" fill="#fff" />
<rect x="407" y="440" width="4" height="6" fill="#fff" />
<rect x="408" y="434" width="1" height="5" fill="#fff" />
<rect x="413" y="440" width="4" height="6" fill="#fff" />
<rect x="414" y="434" width="1" height="5" fill="#fff" />
<rect x="419" y="440" width="4" height="6" fill="#fff" />
<rect x="420" y="434" width="1" height="5" fill="#fff" />
<rect x="425" y="440" width="4" height="6" fill="#fff" />
<rect x="426" y="434" width="1" height="5" fill="#fff" />
<rect x="431" y="440" width="4" height="6" fill="#fff" />
<rect x="432" y="434" width="1" height="5" fill="#fff" />
<rect x="437" y="440" width="4" height="6" fill="#fff" />
<rect x="438" y="434" width="1" height="5" fill="#fff" />
<rect x="386" y="440" width="1" height="6" fill="#fff" />
<rect x="441" y="440" width="2" height="6" fill="#fff" />
<rect x="503" y="433" width="58" height="7" fill="#000" />
<rect x="502" y="436" width="59" height="11" fill="#000" />
<rect x="505" y="440" width="4" height="6" fill="#fff" />
<rect x="507" y="434" width="1" height="5" fill="#fff" />
<rect x="511" y="440" width="4" height="6" fill="#fff" />
<rect x="513" y="434" width="1" height="5" fill="#fff" />
<rect x="517" y="440" width="4" height="6" fill="#fff" />
<rect x="519" y="434" width="1" height="5" fill="#fff" />
<rect x="523" y="440" width="4" height="6" fill="#fff" />
<rect x="525" y="434" width="1" height="5" fill="#fff" />
<rect x="529" y="440" width="4" height="6" fill="#fff" />
<rect x="531" y="434" width="1" height="5" fill="#fff" />
<rect x="535" y="440" width="4" height="6" fill="#fff" />
<rect x="537" y="434" width="1" height="5" fill="#fff" />
<rect x="541" y="440" width="4" height="6" fill="#fff" />
<rect x="543" y="434" width="1" height="5" fill="#fff" />
<rect x="547" y="440" width="4" height="6" fill="#fff" />
<rect x="549" y="434" width="1" height="5" fill="#fff" />
<rect x="553" y="440" width="4" height="6" fill="#fff" />
<rect x="555" y="434" width="1" height="5" fill="#fff" />
<rect x="503" y="440" width="1" height="6" fill="#fff" />
<rect x="559" y="440" width="1" height="6" fill="#fff" />
<rect x="444" y="431" width="58" height="19" fill="#000" />
<rect x="445" y="433" width="55" height="15" fill="#fff" rx="1.2" shape-rendering="auto"/>
<rect x="359" y="451" width="226" height="19" fill="#000" />
<rect x="360" y="452" width="224" height="17" fill="#fff" />
<rect x="369" y="468" width="208" height="1" fill="#000" />
<rect x="359" y="458" width="10" height="1" fill="#000" />
<rect x="359" y="465" width="10" height="1" fill="#000" />
<rect x="368" y="451" width="3" height="18" fill="#000" />
<rect x="574" y="451" width="4" height="18" fill="#000" />
<rect x="577" y="458" width="9" height="1" fill="#000" />
<rect x="577" y="465" width="9" height="1" fill="#000" />
<rect x="585" y="458" width="1" height="8" fill="#000" />
<rect x="584" y="459" width="1" height="6" fill="#fff" />
<rect x="371" y="452" width="9" height="7" fill="#000" />
<rect x="372" y="457" width="9" height="10" fill="#000" />
<rect x="371" y="453" width="7" height="3" fill="#fff" />
<rect x="374" y="456" width="4" height="2" fill="#fff" />
<rect x="373" y="460" width="7" height="6" fill="#fff" />
<rect x="567" y="452" width="8" height="7" fill="#000" />
<rect x="564" y="457" width="11" height="10" fill="#000" />
<rect x="568" y="453" width="6" height="3" fill="#fff" />
<rect x="568" y="456" width="3" height="2" fill="#fff" />
<rect x="565" y="460" width="9" height="6" fill="#fff" />
<rect x="386" y="453" width="58" height="7" fill="#000" />
<rect x="385" y="456" width="59" height="11" fill="#000" />
<rect x="389" y="460" width="4" height="6" fill="#fff" />
<rect x="390" y="454" width="1" height="5" fill="#fff" />
<rect x="395" y="460" width="4" height="6" fill="#fff" />
<rect x="396" y="454" width="1" height="5" fill="#fff" />
<rect x="401" y="460" width="4" height="6" fill="#fff" />
<rect x="402" y="454" width="1" height="5" fill="#fff" />
<rect x="407" y="460" width="4" height="6" fill="#fff" />
<rect x="408" y="454" width="1" height="5" fill="#fff" />
<rect x="413" y="460" width="4" height="6" fill="#fff" />
<rect x="414" y="454" width="1" height="5" fill="#fff" />
<rect x="419" y="460" width="4" height="6" fill="#fff" />
<rect x="420" y="454" width="1" height="5" fill="#fff" />
<rect x="425" y="460" width="4" height="6" fill="#fff" />
<rect x="426" y="454" width="1" height="5" fill="#fff" />
<rect x="431" y="460" width="4" height="6" fill="#fff" />
<rect x="432" y="454" width="1" height="5" fill="#fff" />
<rect x="437" y="460" width="4" height="6" fill="#fff" />
<rect x="438" y="454" width="1" height="5" fill="#fff" />
<rect x="386" y="460" width="1" height="6" fill="#fff" />
<rect x="441" y="460" width="2" height="6" fill="#fff" />
<rect x="503" y="453" width="58" height="7" fill="#000" />
<rect x="502" y="456" width="59" height="11" fill="#000" />
<rect x="505" y="460" width="4" height="6" fill="#fff" />
<rect x="507" y="454" width="1" height="5" fill="#fff" />
<rect x="511" y="460" width="4" height="6" fill="#fff" />
<rect x="513" y="454" width="1" height="5" fill="#fff" />
<rect x="517" y="460" width="4" height="6" fill="#fff" />
<rect x="519" y="454" width="1" height="5" fill="#fff" />
<rect x="523" y="460" width="4" height="6" fill="#fff" />
<rect x="525" y="454" width="1" height="5" fill="#fff" />
<rect x="529" y="460" width="4" height="6" fill="#fff" />
<rect x="531" y="454" width="1" height="5" fill="#fff" />
<rect x="535" y="460" width="4" height="6" fill="#fff" />
<rect x="537" y="454" width="1" height="5" fill="#fff" />
<rect x="541" y="460" width="4" height="6" fill="#fff" />
<rect x="543" y="454" width="1" height="5" fill="#fff" />
<rect x="547" y="460" width="4" height="6" fill="#fff" />
<rect x="549" y="454" width="1" height="5" fill="#fff" />
<rect x="553" y="460" width="4" height="6" fill="#fff" />
<rect x="555" y="454" width="1" height="5" fill="#fff" />
<rect x="503" y="460" width="1" height="6" fill="#fff" />
<rect x="559" y="460" width="1" height="6" fill="#fff" />
<rect x="444" y="451" width="58" height="19" fill="#000" />
<rect x="445" y="453" width="55" height="15" fill="#fff" rx="1.2" shape-rendering="auto"/>
<rect x="359" y="471" width="226" height="19" fill="#000" />
<rect x="360" y="472" width="224" height="17" fill="#fff" />
<rect x="369" y="488" width="208" height="1" fill="#000" />
<rect x="359" y="478" width="10" height="1" fill="#000" />
<rect x="359" y="485" width="10" height="1" fill="#000" />
<rect x="368" y="471" width="3" height="18" fill="#000" />
<rect x="574" y="471" width="4" height="18" fill="#000" />
<rect x="577" y="478" width="9" height="1" fill="#000" />
<rect x="577" y="485" width="9" height="1" fill="#000" />
<rect x="585" y="478" width="1" height="8" fill="#000" />
<rect x="584" y="479" width="1" height="6" fill="#fff" />
<rect x="371" y="472" width="9" height="7" fill="#000" />
<rect x="372" y="477" width="9" height="10" fill="#000" />
<rect x="371" y="473" width="7" height="3" fill="#fff" />
<rect x="374" y="476" width="4" height="2" fill="#fff" />
<rect x="373" y="480" width="7" height="6" fill="#fff" />
<rect x="567" y="472" width="8" height="7" fill="#000" />
<rect x="564" y="477" width="11" height="10" fill="#000" />
<rect x="568" y="473" width="6" height="3" fill="#fff" />
<rect x="568" y="476" width="3" height="2" fill="#fff" />
<rect x="565" y="480" width="9" height="6" fill="#fff" />
<rect x="386" y="473" width="58" height="7" fill="#000" />
<rect x="385" y="476" width="59" height="11" fill="#000" />
<rect x="389" y="480" width="4" height="6" fill="#fff" />
<rect x="390" y="474" width="1" height="5" fill="#fff" />
<rect x="395" y="480" width="4" height="6" fill="#fff" />
<rect x="396" y="474" width="1" height="5" fill="#fff" />
<rect x="401" y="480" width="4" height="6" fill="#fff" />
<rect x="402" y="474" width="1" height="5" fill="#fff" />
<rect x="407" y="480" width="4" height="6" fill="#fff" />
<rect x="408" y="474" width="1" height="5" fill="#fff" />
<rect x="413" y="480" width="4" height="6" fill="#fff" />
<rect x="414" y="474" width="1" height="5" fill="#fff" />
<rect x="419" y="480" width="4" height="6" fill="#fff" />
<rect x="420" y="474" width="1" height="5" fill="#fff" />
<rect x="425" y="480" width="4" height="6" fill="#fff" />
<rect x="426" y="474" width="1" height="5" fill="#fff" />
<rect x="431" y="480" width="4" height="6" fill="#fff" />
<rect x="432" y="474" width="1" height="5" fill="#fff" />
<rect x="437" y="480" width="4" height="6" fill="#fff" />
<rect x="438" y="474" width="1" height="5" fill="#fff" />
<rect x="386" y="480" width="1" height="6" fill="#fff" />
<rect x="441" y="480" width="2" height="6" fill="#fff" />
<rect x="503" y="473" width="58" height="7" fill="#000" />
<rect x="502" y="476" width="59" height="11" fill="#000" />
<rect x="505" y="480" width="4" height="6" fill="#fff" />
<rect x="507" y="474" width="1" height="5" fill="#fff" />
<rect x="511" y="480" width="4" height="6" fill="#fff" />
<rect x="513" y="474" width="1" height="5" fill="#fff" />
<rect x="517" y="480" width="4" height="6" fill="#fff" />
<rect x="519" y="474" width="1" height="5" fill="#fff" />
<rect x="523" y="480" width="4" height="6" fill="#fff" />
<rect x="525" y="474" width="1" height="5" fill="#fff" />
<rect x="529" y="480" width="4" height="6" fill="#fff" />
<rect x="531" y="474" width="1" height="5" fill="#fff" />
<rect x="535" y="480" width="4" height="6" fill="#fff" />
<rect x="537" y="474" width="1" height="5" fill="#fff" />
<rect x="541" y="480" width="4" height="6" fill="#fff" />
<rect x="543" y="474" width="1" height="5" fill="#fff" />
<rect x="547" y="480" width="4" height="6" fill="#fff" />
<rect x="549" y="474" width="1" height="5" fill="#fff" />
<rect x="553" y="480" width="4" height="6" fill="#fff" />
<rect x="555" y="474" width="1" height="5" fill="#fff" />
<rect x="503" y="480" width="1" height="6" fill="#fff" />
<rect x="559" y="480" width="1" height="6" fill="#fff" />
<rect x="444" y="471" width="58" height="19" fill="#000" />
<rect x="445" y="473" width="55" height="15" fill="#fff" rx="1.2" shape-rendering="auto"/>
<rect x="359" y="491" width="226" height="19" fill="#000" />
<rect x="360" y="492" width="224" height="17" fill="#fff" />
<rect x="369" y="508" width="208" height="1" fill="#000" />
<rect x="359" y="498" width="10" height="1" fill="#000" />
<rect x="359" y="505" width="10" height="1" fill="#000" />
<rect x="368" y="491" width="3" height="18" fill="#000" />
<rect x="574" y="491" width="4" height="18" fill="#000" />
<rect x="577" y="498" width="9" height="1" fill="#000" />
<rect x="577" y="505" width="9" height="1" fill="#000" />
<rect x="585" y="498" width="1" height="8" fill="#000" />
<rect x="584" y="499" width="1" height="6" fill="#fff" />
<rect x="371" y="492" width="9" height="7" fill="#000" />
<rect x="372" y="497" width="9" height="10" fill="#000" />
<rect x="371" y="493" width="7" height="3" fill="#fff" />
<rect x="374" y="496" width="4" height="2" fill="#fff" />
<rect x="373" y="500" width="7" height="6" fill="#fff" />
<rect x="567" y="492" width="8" height="7" fill="#000" />
<rect x="564" y="497" width="11" height="10" fill="#000" />
<rect x="568" y="493" width="6" height="3" fill="#fff" />
<rect x="568" y="496" width="3" height="2" fill="#fff" />
<rect x="565" y="500" width="9" height="6" fill="#fff" />
<rect x="386" y="493" width="58" height="7" fill="#000" />
<rect x="385" y="496" width="59" height="11" fill="#000" />
<rect x="389" y="500" width="4" height="6" fill="#fff" />
<rect x="390" y="494" width="1" height="5" fill="#fff" />
<rect x="395" y="500" width="4" height="6" fill="#fff" />
<rect x="396" y="494" width="1" height="5" fill="#fff" />
<rect x="401" y="500" width="4" height="6" fill="#fff" />
<rect x="402" y="494" width="1" height="5" fill="#fff" />
<rect x="407" y="500" width="4" height="6" fill="#fff" />
<rect x="408" y="494" width="1" height="5" fill="#fff" />
<rect x="413" y="500" width="4" height="6" fill="#fff" />
<rect x="414" y="494" width="1" height="5" fill="#fff" />
<rect x="419" y="500" width="4" height="6" fill="#fff" />
<rect x="420" y="494" width="1" height="5" fill="#fff" />
<rect x="425" y="500" width="4" height="6" fill="#fff" />
<rect x="426" y="494" width="1" height="5" fill="#fff" />
<rect x="431" y="500" width="4" height="6" fill="#fff" />
<rect x="432" y="494" width="1" height="5" fill="#fff" />
<rect x="437" y="500" width="4" height="6" fill="#fff" />
<rect x="438" y="494" width="1" height="5" fill="#fff" />
<rect x="386" y="500" width="1" height="6" fill="#fff" />
<rect x="441" y="500" width="2" height="6" fill="#fff" />
<rect x="503" y="493" width="58" height="7" fill="#000" />
<rect x="502" y="496" width="59" height="11" fill="#000" />
<rect x="505" y="500" width="4" height="6" fill="#fff" />
<rect x="507" y="494" width="1" height="5" fill="#fff" />
<rect x="511" y="500" width="4" height="6" fill="#fff" />
<rect x="513" y="494" width="1" height="5" fill="#fff" />
<rect x="517" y="500" width="4" height="6" fill="#fff" />
<rect x="519" y="494" width="1" height="5" fill="#fff" />
<rect x="523" y="500" width="4" height="6" fill="#fff" />
<rect x="525" y="494" width="1" height="5" fill="#fff" />
<rect x="529" y="500" width="4" height="6" fill="#fff" />
<rect x="531" y="494" width="1" height="5" fill="#fff" />
<rect x="535" y="500" width="4" height="6" fill="#fff" />
<rect x="537" y="494" width="1" height="5" fill="#fff" />
<rect x="541" y="500" width="4" height="6" fill="#fff" />
<rect x="543" y="494" width="1" height="5" fill="#fff" />
<rect x="547" y="500" width="4" height="6" fill="#fff" />
<rect x="549" y="494" width="1" height="5" fill="#fff" />
<rect x="553" y="500" width="4" height="6" fill="#fff" />
<rect x="555" y="494" width="1" height="5" fill="#fff" />
<rect x="503" y="500" width="1" height="6" fill="#fff" />
<rect x="559" y="500" width="1" height="6" fill="#fff" />
<rect x="444" y="491" width="58" height="19" fill="#000" />
<rect x="445" y="493" width="55" height="15" fill="#fff" rx="1.2" shape-rendering="auto"/>
<rect x="359" y="522" width="226" height="19" fill="#000" />
<rect x="360" y="523" width="224" height="17" fill="#fff" />
<rect x="369" y="539" width="208" height="1" fill="#000" />
<rect x="359" y="529" width="10" height="1" fill="#000" />
<rect x="359" y="536" width="10" height="1" fill="#000" />
<rect x="368" y="522" width="3" height="18" fill="#000" />
<rect x="574" y="522" width="4" height="18" fill="#000" />
<rect x="577" y="529" width="9" height="1" fill="#000" />
<rect x="577" y="536" width="9" height="1" fill="#000" />
<rect x="585" y="529" width="1" height="8" fill="#000" />
<rect x="584" y="530" width="1" height="6" fill="#fff" />
<rect x="371" y="523" width="9" height="7" fill="#000" />
<rect x="372" y="528" width="9" height="10" fill="#000" />
<rect x="371" y="524" width="7" height="3" fill="#fff" />
<rect x="374" y="527" width="4" height="2" fill="#fff" />
<rect x="373" y="531" width="7" height="6" fill="#fff" />
<rect x="567" y="523" width="8" height="7" fill="#000" />
<rect x="564" y="528" width="11" height="10" fill="#000" />
<rect x="568" y="524" width="6" height="3" fill="#fff" />
<rect x="568" y="527" width="3" height="2" fill="#fff" />
<rect x="565" y="531" width="9" height="6" fill="#fff" />
<rect x="386" y="524" width="58" height="7" fill="#000" />
<rect x="385" y="527" width="59" height="11" fill="#000" />
<rect x="389" y="531" width="4" height="6" fill="#fff" />
<rect x="390" y="525" width="1" height="5" fill="#fff" />
<rect x="395" y="531" width="4" height="6" fill="#fff" />
<rect x="396" y="525" width="1" height="5" fill="#fff" />
<rect x="401" y="531" width="4" height="6" fill="#fff" />
<rect x="402" y="525" width="1" height="5" fill="#fff" />
<rect x="407" y="531" width="4" height="6" fill="#fff" />
<rect x="408" y="525" width="1" height="5" fill="#fff" />
<rect x="413" y="531" width="4" height="6" fill="#fff" />
<rect x="414" y="525" width="1" height="5" fill="#fff" />
<rect x="419" y="531" width="4" height="6" fill="#fff" />
<rect x="420" y="525" width="1" height="5" fill="#fff" />
<rect x="425" y="531" width="4" height="6" fill="#fff" />
<rect x="426" y="525" width="1" height="5" fill="#fff" />
<rect x="431" y="531" width="4" height="6" fill="#fff" />
<rect x="432" y="525" width="1" height="5" fill="#fff" />
<rect x="437" y="531" width="4" height="6" fill="#fff" />
<rect x="438" y="525" width="1" height="5" fill="#fff" />
<rect x="386" y="531" width="1" height="6" fill="#fff" />
<rect x="441" y="531" width="2" height="6" fill="#fff" />
<rect x="503" y="524" width="58" height="7" fill="#000" />
<rect x="502" y="527" width="59" height="11" fill="#000" />
<rect x="505" y="531" width="4" height="6" fill="#fff" />
<rect x="507" y="525" width="1" height="5" fill="#fff" />
<rect x="511" y="531" width="4" height="6" fill="#fff" />
<rect x="513" y="525" width="1" height="5" fill="#fff" />
<rect x="517" y="531" width="4" height="6" fill="#fff" />
<rect x="519" y="525" width="1" height="5" fill="#fff" />
<rect x="523" y="531" width="4" height="6" fill="#fff" />
<rect x="525" y="525" width="1" height="5" fill="#fff" />
<rect x="529" y="531" width="4" height="6" fill="#fff" />
<rect x="531" y="525" width="1" height="5" fill="#fff" />
<rect x="535" y="531" width="4" height="6" fill="#fff" />
<rect x="537" y="525" width="1" height="5" fill="#fff" />
<rect x="541" y="531" width="4" height="6" fill="#fff" />
<rect x="543" y="525" width="1" height="5" fill="#fff" />
<rect x="547" y="531" width="4" height="6" fill="#fff" />
<rect x="549" y="525" width="1" height="5" fill="#fff" />
<rect x="553" y="531" width="4" height="6" fill="#fff" />
<rect x="555" y="525" width="1" height="5" fill="#fff" />
<rect x="503" y="531" width="1" height="6" fill="#fff" />
<rect x="559" y="531" width="1" height="6" fill="#fff" />
<rect x="444" y="522" width="58" height="19" fill="#000" />
<rect x="445" y="524" width="55" height="15" fill="#fff" rx="1.2" shape-rendering="auto"/>
<rect x="359" y="542" width="226" height="19" fill="#000" />
<rect x="360" y="543" width="224" height="17" fill="#fff" />
<rect x="369" y="559" width="208" height="1" fill="#000" />
<rect x="359" y="549" width="10" height="1" fill="#000" />
<rect x="359" y="556" width="10" height="1" fill="#000" />
<rect x="368" y="542" width="3" height="18" fill="#000" />
<rect x="574" y="542" width="4" height="18" fill="#000" />
<rect x="577" y="549" width="9" height="1" fill="#000" />
<rect x="577" y="556" width="9" height="1" fill="#000" />
<rect x="585" y="549" width="1" height="8" fill="#000" />
<rect x="584" y="550" width="1" height="6" fill="#fff" />
<rect x="371" y="543" width="9" height="7" fill="#000" />
<rect x="372" y="548" width="9" height="10" fill="#000" />
<rect x="371" y="544" width="7" height="3" fill="#fff" />
<rect x="374" y="547" width="4" height="2" fill="#fff" />
<rect x="373" y="551" width="7" height="6" fill="#fff" />
<rect x="567" y="543" width="8" height="7" fill="#000" />
<rect x="564" y="548" width="11" height="10" fill="#000" />
<rect x="568" y="544" width="6" height="3" fill="#fff" />
<rect x="568" y="547" width="3" height="2" fill="#fff" />
<rect x="565" y="551" width="9" height="6" fill="#fff" />
<rect x="386" y="544" width="58" height="7" fill="#000" />
<rect x="385" y="547" width="59" height="11" fill="#000" />
<rect x="389" y="551" width="4" height="6" fill="#fff" />
<rect x="390" y="545" width="1" height="5" fill="#fff" />
<rect x="395" y="551" width="4" height="6" fill="#fff" />
<rect x="396" y="545" width="1" height="5" fill="#fff" />
<rect x="401" y="551" width="4" height="6" fill="#fff" />
<rect x="402" y="545" width="1" height="5" fill="#fff" />
<rect x="407" y="551" width="4" height="6" fill="#fff" />
<rect x="408" y="545" width="1" height="5" fill="#fff" />
<rect x="413" y="551" width="4" height="6" fill="#fff" />
<rect x="414" y="545" width="1" height="5" fill="#fff" />
<rect x="419" y="551" width="4" height="6" fill="#fff" />
<rect x="420" y="545" width="1" height="5" fill="#fff" />
<rect x="425" y="551" width="4" height="6" fill="#fff" />
<rect x="426" y="545" width="1" height="5" fill="#fff" />
<rect x="431" y="551" width="4" height="6" fill="#fff" />
<rect x="432" y="545" width="1" height="5" fill="#fff" />
<rect x="437" y="551" width="4" height="6" fill="#fff" />
<rect x="438" y="545" width="1" height="5" fill="#fff" />
<rect x="386" y="551" width="1" height="6" fill="#fff" />
<rect x="441" y="551" width="2" height="6" fill="#fff" />
<rect x="503" y="544" width="58" height="7" fill="#000" />
<rect x="502" y="547" width="59" height="11" fill="#000" />
<rect x="505" y="551" width="4" height="6" fill="#fff" />
<rect x="507" y="545" width="1" height="5" fill="#fff" />
<rect x="511" y="551" width="4" height="6" fill="#fff" />
<rect x="513" y="545" width="1" height="5" fill="#fff" />
<rect x="517" y="551" width="4" height="6" fill="#fff" />
<rect x="519" y="545" width="1" height="5" fill="#fff" />
<rect x="523" y="551" width="4" height="6" fill="#fff" />
<rect x="525" y="545" width="1" height="5" fill="#fff" />
<rect x="529" y="551" width="4" height="6" fill="#fff" />
<rect x="531" y="545" width="1" height="5" fill="#fff" />
<rect x="535" y="551" width="4" height="6" fill="#fff" />
<rect x="537" y="545" width="1" height="5" fill="#fff" />
<rect x="541" y="551" width="4" height="6" fill="#fff" />
<rect x="543" y="545" width="1" height="5" fill="#fff" />
<rect x="547" y="551" width="4" height="6" fill="#fff" />
<rect x="549" y="545" width="1" height="5" fill="#fff" />
<rect x="553" y="551" width="4" height="6" fill="#fff" />
<rect x="555" y="545" width="1" height="5" fill="#fff" />
<rect x="503" y="551" width="1" height="6" fill="#fff" />
<rect x="559" y="551" width="1" height="6" fill="#fff" />
<rect x="444" y="542" width="58" height="19" fill="#000" />
<rect x="445" y="544" width="55" height="15" fill="#fff" rx="1.2" shape-rendering="auto"/>
<rect x="682" y="405" width="30" height="36.5" fill="#000" />
<rect x="679" y="411" width="4" height="24.5" fill="#000" />
<path d="M711 398 H708 V400 H706 V447 H708 V449 H711 Z" fill="#000" />
<rect x="675" y="413" width="4" height="8" fill="#fff" stroke="#000" stroke-width="1"/>
<rect x="675" y="425" width="4" height="7.5" fill="#fff" stroke="#000" stroke-width="1"/>
<rect x="680" y="421" width="2" height="4" fill="#fff" />
<rect x="681" y="473" width="24" height="113" fill="#000" />
<rect x="682" y="474" width="22" height="111" fill="#fff" />
<rect x="684" y="474" width="1" height="111" fill="#000" />
<rect x="697" y="474" width="1" height="111" fill="#000" />
<rect x="684" y="474" width="8" height="3" fill="#000" />
<rect x="685" y="474" width="1" height="2" fill="#fff" />
<rect x="690" y="474" width="1" height="2" fill="#fff" />
<rect x="687" y="473" width="2" height="3" fill="#fff" />
<rect x="684" y="582" width="8" height="3" fill="#000" />
<rect x="685" y="583" width="1" height="2" fill="#fff" />
<rect x="690" y="583" width="1" height="2" fill="#fff" />
<rect x="687" y="583" width="2" height="3" fill="#fff" />
<rect x="684" y="479" width="8" height="8" fill="#000" />
<rect x="685" y="480" width="6" height="6" fill="#fff" />
<rect x="692" y="475" width="3" height="8" fill="#000" />
<rect x="699" y="475" width="2" height="8" fill="#000" />
<rect x="698" y="476" width="4" height="5" fill="#000" />
<rect x="697" y="483" width="2" height="1" fill="#000" />
<rect x="684" y="489" width="8" height="8" fill="#000" />
<rect x="685" y="490" width="6" height="6" fill="#fff" />
<rect x="692" y="485" width="3" height="8" fill="#000" />
<rect x="699" y="485" width="2" height="8" fill="#000" />
<rect x="698" y="486" width="4" height="5" fill="#000" />
<rect x="697" y="493" width="2" height="1" fill="#000" />
<rect x="684" y="498" width="8" height="8" fill="#000" />
<rect x="685" y="499" width="6" height="6" fill="#fff" />
<rect x="692" y="494" width="3" height="8" fill="#000" />
<rect x="699" y="494" width="2" height="8" fill="#000" />
<rect x="698" y="495" width="4" height="5" fill="#000" />
<rect x="697" y="502" width="2" height="1" fill="#000" />
<rect x="684" y="508" width="8" height="8" fill="#000" />
<rect x="685" y="509" width="6" height="6" fill="#fff" />
<rect x="692" y="504" width="3" height="8" fill="#000" />
<rect x="699" y="504" width="2" height="8" fill="#000" />
<rect x="698" y="505" width="4" height="5" fill="#000" />
<rect x="697" y="512" width="2" height="1" fill="#000" />
<rect x="684" y="518" width="8" height="8" fill="#000" />
<rect x="685" y="519" width="6" height="6" fill="#fff" />
<rect x="692" y="514" width="3" height="8" fill="#000" />
<rect x="699" y="514" width="2" height="8" fill="#000" />
<rect x="698" y="515" width="4" height="5" fill="#000" />
<rect x="697" y="522" width="2" height="1" fill="#000" />
<rect x="684" y="527" width="8" height="8" fill="#000" />
<rect x="685" y="528" width="6" height="6" fill="#fff" />
<rect x="692" y="523" width="3" height="8" fill="#000" />
<rect x="699" y="523" width="2" height="8" fill="#000" />
<rect x="698" y="524" width="4" height="5" fill="#000" />
<rect x="697" y="531" width="2" height="1" fill="#000" />
<rect x="684" y="537" width="8" height="8" fill="#000" />
<rect x="685" y="538" width="6" height="6" fill="#fff" />
<rect x="692" y="533" width="3" height="8" fill="#000" />
<rect x="699" y="533" width="2" height="8" fill="#000" />
<rect x="698" y="534" width="4" height="5" fill="#000" />
<rect x="697" y="541" width="2" height="1" fill="#000" />
<rect x="684" y="547" width="8" height="8" fill="#000" />
<rect x="685" y="548" width="6" height="6" fill="#fff" />
<rect x="692" y="543" width="3" height="8" fill="#000" />
<rect x="699" y="543" width="2" height="8" fill="#000" />
<rect x="698" y="544" width="4" height="5" fill="#000" />
<rect x="697" y="551" width="2" height="1" fill="#000" />
<rect x="684" y="556" width="8" height="8" fill="#000" />
<rect x="685" y="557" width="6" height="6" fill="#fff" />
<rect x="692" y="552" width="3" height="8" fill="#000" />
<rect x="699" y="552" width="2" height="8" fill="#000" />
<rect x="698" y="553" width="4" height="5" fill="#000" />
<rect x="697" y="560" width="2" height="1" fill="#000" />
<rect x="684" y="566" width="8" height="8" fill="#000" />
<rect x="685" y="567" width="6" height="6" fill="#fff" />
<rect x="692" y="562" width="3" height="8" fill="#000" />
<rect x="699" y="562" width="2" height="8" fill="#000" />
<rect x="698" y="563" width="4" height="5" fill="#000" />
<rect x="697" y="570" width="2" height="1" fill="#000" />
<rect x="684" y="576" width="8" height="8" fill="#000" />
<rect x="685" y="577" width="6" height="6" fill="#fff" />
<rect x="692" y="572" width="3" height="8" fill="#000" />
<rect x="699" y="572" width="2" height="8" fill="#000" />
<rect x="698" y="573" width="4" height="5" fill="#000" />
<rect x="697" y="580" width="2" height="1" fill="#000" />
<rect x="692" y="581" width="3" height="4" fill="#000" />
<rect x="699" y="581" width="2" height="4" fill="#000" />
<path d="M530 576 H599 V651 H524 V583 Z" fill="#000" shape-rendering="auto"/>
<circle cx="532.3" cy="583.8" r="3.4" fill="#fff" shape-rendering="auto"/>
<rect x="548" y="607" width="28" height="14" fill="#fff" />
<path d="M615 613 H681 V677 L678.5 680 H615 Z" fill="#000" />
<rect x="630" y="629" width="36" height="36" fill="#fff" />
<circle cx="620.0" cy="618.4" r="1.55" fill="#fff" shape-rendering="auto"/>
<circle cx="620.0" cy="624.1" r="1.55" fill="#fff" shape-rendering="auto"/>
<circle cx="620.0" cy="629.8" r="1.55" fill="#fff" shape-rendering="auto"/>
<circle cx="620.0" cy="635.5" r="1.55" fill="#fff" shape-rendering="auto"/>
<circle cx="620.0" cy="641.2" r="1.55" fill="#fff" shape-rendering="auto"/>
<circle cx="620.0" cy="646.9" r="1.55" fill="#fff" shape-rendering="auto"/>
<circle cx="620.0" cy="652.6" r="1.55" fill="#fff" shape-rendering="auto"/>
<circle cx="620.0" cy="658.3" r="1.55" fill="#fff" shape-rendering="auto"/>
<circle cx="620.0" cy="664.0" r="1.55" fill="#fff" shape-rendering="auto"/>
<circle cx="620.0" cy="669.7" r="1.55" fill="#fff" shape-rendering="auto"/>
<circle cx="620.0" cy="675.4" r="1.55" fill="#fff" shape-rendering="auto"/>
<circle cx="625.6" cy="618.4" r="1.55" fill="#fff" shape-rendering="auto"/>
<circle cx="625.6" cy="624.1" r="1.55" fill="#fff" shape-rendering="auto"/>
<circle cx="625.6" cy="629.8" r="1.55" fill="#fff" shape-rendering="auto"/>
<circle cx="625.6" cy="635.5" r="1.55" fill="#fff" shape-rendering="auto"/>
<circle cx="625.6" cy="641.2" r="1.55" fill="#fff" shape-rendering="auto"/>
<circle cx="625.6" cy="646.9" r="1.55" fill="#fff" shape-rendering="auto"/>
<circle cx="625.6" cy="652.6" r="1.55" fill="#fff" shape-rendering="auto"/>
<circle cx="625.6" cy="658.3" r="1.55" fill="#fff" shape-rendering="auto"/>
<circle cx="625.6" cy="664.0" r="1.55" fill="#fff" shape-rendering="auto"/>
<circle cx="625.6" cy="669.7" r="1.55" fill="#fff" shape-rendering="auto"/>
<circle cx="625.6" cy="675.4" r="1.55" fill="#fff" shape-rendering="auto"/>
<circle cx="631.3" cy="618.4" r="1.55" fill="#fff" shape-rendering="auto"/>
<circle cx="631.3" cy="624.1" r="1.55" fill="#fff" shape-rendering="auto"/>
<circle cx="631.3" cy="669.7" r="1.55" fill="#fff" shape-rendering="auto"/>
<circle cx="631.3" cy="675.4" r="1.55" fill="#fff" shape-rendering="auto"/>
<circle cx="636.9" cy="618.4" r="1.55" fill="#fff" shape-rendering="auto"/>
<circle cx="636.9" cy="624.1" r="1.55" fill="#fff" shape-rendering="auto"/>
<circle cx="636.9" cy="669.7" r="1.55" fill="#fff" shape-rendering="auto"/>
<circle cx="636.9" cy="675.4" r="1.55" fill="#fff" shape-rendering="auto"/>
<circle cx="642.6" cy="618.4" r="1.55" fill="#fff" shape-rendering="auto"/>
<circle cx="642.6" cy="624.1" r="1.55" fill="#fff" shape-rendering="auto"/>
<circle cx="642.6" cy="669.7" r="1.55" fill="#fff" shape-rendering="auto"/>
<circle cx="642.6" cy="675.4" r="1.55" fill="#fff" shape-rendering="auto"/>
<circle cx="648.2" cy="618.4" r="1.55" fill="#fff" shape-rendering="auto"/>
<circle cx="648.2" cy="624.1" r="1.55" fill="#fff" shape-rendering="auto"/>
<circle cx="648.2" cy="669.7" r="1.55" fill="#fff" shape-rendering="auto"/>
<circle cx="648.2" cy="675.4" r="1.55" fill="#fff" shape-rendering="auto"/>
<circle cx="653.8" cy="618.4" r="1.55" fill="#fff" shape-rendering="auto"/>
<circle cx="653.8" cy="624.1" r="1.55" fill="#fff" shape-rendering="auto"/>
<circle cx="653.8" cy="669.7" r="1.55" fill="#fff" shape-rendering="auto"/>
<circle cx="653.8" cy="675.4" r="1.55" fill="#fff" shape-rendering="auto"/>
<circle cx="659.5" cy="618.4" r="1.55" fill="#fff" shape-rendering="auto"/>
<circle cx="659.5" cy="624.1" r="1.55" fill="#fff" shape-rendering="auto"/>
<circle cx="659.5" cy="669.7" r="1.55" fill="#fff" shape-rendering="auto"/>
<circle cx="659.5" cy="675.4" r="1.55" fill="#fff" shape-rendering="auto"/>
<circle cx="665.1" cy="618.4" r="1.55" fill="#fff" shape-rendering="auto"/>
<circle cx="665.1" cy="624.1" r="1.55" fill="#fff" shape-rendering="auto"/>
<circle cx="665.1" cy="669.7" r="1.55" fill="#fff" shape-rendering="auto"/>
<circle cx="665.1" cy="675.4" r="1.55" fill="#fff" shape-rendering="auto"/>
<circle cx="670.8" cy="618.4" r="1.55" fill="#fff" shape-rendering="auto"/>
<circle cx="670.8" cy="624.1" r="1.55" fill="#fff" shape-rendering="auto"/>
<circle cx="670.8" cy="629.8" r="1.55" fill="#fff" shape-rendering="auto"/>
<circle cx="670.8" cy="635.5" r="1.55" fill="#fff" shape-rendering="auto"/>
<circle cx="670.8" cy="641.2" r="1.55" fill="#fff" shape-rendering="auto"/>
<circle cx="670.8" cy="646.9" r="1.55" fill="#fff" shape-rendering="auto"/>
<circle cx="670.8" cy="652.6" r="1.55" fill="#fff" shape-rendering="auto"/>
<circle cx="670.8" cy="658.3" r="1.55" fill="#fff" shape-rendering="auto"/>
<circle cx="670.8" cy="664.0" r="1.55" fill="#fff" shape-rendering="auto"/>
<circle cx="670.8" cy="669.7" r="1.55" fill="#fff" shape-rendering="auto"/>
<circle cx="670.8" cy="675.4" r="1.55" fill="#fff" shape-rendering="auto"/>
<circle cx="676.4" cy="618.4" r="1.55" fill="#fff" shape-rendering="auto"/>
<circle cx="676.4" cy="624.1" r="1.55" fill="#fff" shape-rendering="auto"/>
<circle cx="676.4" cy="629.8" r="1.55" fill="#fff" shape-rendering="auto"/>
<circle cx="676.4" cy="635.5" r="1.55" fill="#fff" shape-rendering="auto"/>
<circle cx="676.4" cy="641.2" r="1.55" fill="#fff" shape-rendering="auto"/>
<circle cx="676.4" cy="646.9" r="1.55" fill="#fff" shape-rendering="auto"/>
<circle cx="676.4" cy="652.6" r="1.55" fill="#fff" shape-rendering="auto"/>
<circle cx="676.4" cy="658.3" r="1.55" fill="#fff" shape-rendering="auto"/>
<circle cx="676.4" cy="664.0" r="1.55" fill="#fff" shape-rendering="auto"/>
<circle cx="676.4" cy="669.7" r="1.55" fill="#fff" shape-rendering="auto"/>
<circle cx="676.4" cy="675.4" r="1.55" fill="#fff" shape-rendering="auto"/>
<rect x="632" y="637" width="32" height="18" fill="#000" rx="4.5" shape-rendering="auto"/>
<rect x="635" y="640" width="26" height="12" fill="#fff" rx="1.5" shape-rendering="auto"/>
<circle cx="662.7" cy="661.3" r="2.4" fill="#000" shape-rendering="auto"/>
<rect x="678" y="701" width="26" height="6" fill="#000" />
<rect x="679" y="702" width="1" height="4" fill="#fff" />
<rect x="684" y="702" width="1" height="4" fill="#fff" />
<rect x="690" y="702" width="1" height="4" fill="#fff" />
<rect x="696" y="702" width="1" height="4" fill="#fff" />
<rect x="701" y="702" width="2" height="4" fill="#fff" />
<rect x="626" y="695" width="36" height="19" fill="#000" rx="3.2" shape-rendering="auto"/>
<rect x="628" y="697" width="31" height="14" fill="#fff" rx="1.3" shape-rendering="auto"/>
<rect x="673" y="703" width="4" height="2" fill="#000" />
<rect x="669" y="702" width="4" height="4" fill="#000" />
<rect x="664" y="701" width="5.5" height="2" fill="#000" />
<rect x="660" y="700" width="4" height="2" fill="#000" />
<rect x="663" y="704" width="6.5" height="2" fill="#000" />
<rect x="660" y="705" width="5" height="2" fill="#000" />
<rect x="664" y="703" width="5" height="1" fill="#fff" />
<rect x="659.4" y="702" width="4.6" height="3" fill="#fff" />
<g filter="url(#th)" fill="#000">
<text transform="translate(71.97,45) scale(0.714,1)" font-size="14.49">K</text>
<text transform="translate(81.40,45) scale(0.601,1)" font-size="14.49">B</text>
<text transform="translate(90.41,45) scale(0.678,1)" font-size="14.49">D</text>
<text transform="translate(339.71,303) scale(0.667,1)" font-size="14.49">S</text>
<rect x="352" y="294" width="1" height="9" fill="#000" />
<rect x="350" y="296" width="2" height="1" fill="#000" />
<rect x="351" y="295" width="1" height="1" fill="#000" />
<text transform="translate(575.19,52) scale(0.676,1)" font-size="13.04">M</text>
<text transform="translate(584.50,52) scale(0.673,1)" font-size="13.04">H</text>
<rect x="594" y="44" width="1" height="8" fill="#000" />
<rect x="592" y="46" width="2" height="1" fill="#000" />
<rect x="593" y="45" width="1" height="1" fill="#000" />
<text transform="translate(599.02,52) scale(0.827,1)" font-size="11.59">5</text>
<text transform="translate(604.88,52) scale(0.898,1)" font-size="11.59">8</text>
<text transform="translate(611.90,52) scale(0.863,1)" font-size="11.59">6</text>
<text transform="translate(165.24,143) scale(0.724,1)" font-size="13.04">B</text>
<rect x="174" y="134" width="1" height="9" fill="#000" />
<text transform="translate(177.66,143) scale(0.844,1)" font-size="13.04">O</text>
<text transform="translate(187.77,143) scale(0.819,1)" font-size="13.04">S</text>
<text transform="translate(163.53,158) scale(0.577,1)" font-size="14.49">E</text>
<text transform="translate(172.60,158) scale(0.597,1)" font-size="14.49">V</text>
<text transform="translate(182.42,158) scale(0.502,1)" font-size="14.49">E</text>
<text transform="translate(190.99,158) scale(0.702,1)" font-size="14.49">N</text>
<text transform="translate(164.40,239) scale(0.601,1)" font-size="14.49">B</text>
<rect x="174" y="229" width="1" height="10" fill="#000" />
<text transform="translate(176.99,239) scale(0.710,1)" font-size="14.49">O</text>
<text transform="translate(187.43,239) scale(0.632,1)" font-size="14.49">S</text>
<text transform="translate(165.76,254) scale(0.760,1)" font-size="14.49">O</text>
<text transform="translate(176.68,254) scale(0.621,1)" font-size="14.49">D</text>
<text transform="translate(185.79,254) scale(0.610,1)" font-size="14.49">D</text>
<path d="M303.70 160.5 L305.60 168.5 L307.55 160.5 L309.50 168.5 L311.40 160.5" fill="none" stroke="#000" stroke-width="0.95" shape-rendering="auto"/>
<rect x="316" y="161" width="1" height="8" fill="#000" />
<rect x="314" y="163" width="2" height="1" fill="#000" />
<rect x="315" y="162" width="1" height="1" fill="#000" />
<rect x="327" y="165" width="2" height="1" fill="#000" />
<path d="M337.40 160.5 L339.11 168.5 L340.90 160.5 L342.69 168.5 L344.40 160.5" fill="none" stroke="#000" stroke-width="0.95" shape-rendering="auto"/>
<text transform="translate(345.92,169) scale(0.827,1)" font-size="11.59">8</text>
<rect x="306" y="213" width="5" height="7" fill="#000" />
<rect x="307" y="214" width="3" height="2" fill="#fff" />
<rect x="307" y="217" width="3" height="2" fill="#fff" />
<rect x="306" y="213" width="1" height="1" fill="#fff" />
<rect x="310" y="213" width="1" height="1" fill="#fff" />
<rect x="306" y="219" width="1" height="1" fill="#fff" />
<rect x="310" y="219" width="1" height="1" fill="#fff" />
<rect x="306" y="216" width="1" height="1" fill="#fff" />
<rect x="310" y="216" width="1" height="1" fill="#fff" />
<rect x="350" y="213" width="1" height="7" fill="#000" />
<rect x="348" y="215" width="2" height="1" fill="#000" />
<rect x="349" y="214" width="1" height="1" fill="#000" />
<text transform="translate(51.01,135) scale(0.624,1)" font-size="14.49">J</text>
<rect x="60" y="126" width="1" height="9" fill="#000" />
<rect x="58" y="128" width="2" height="1" fill="#000" />
<rect x="59" y="127" width="1" height="1" fill="#000" />
<text transform="translate(64.48,135) scale(0.815,1)" font-size="13.04">5</text>
<text transform="translate(50.01,192) scale(0.608,1)" font-size="14.49">J</text>
<rect x="60" y="183" width="1" height="9" fill="#000" />
<rect x="58" y="185" width="2" height="1" fill="#000" />
<rect x="59" y="184" width="1" height="1" fill="#000" />
<text transform="translate(63.45,192) scale(0.848,1)" font-size="13.04">6</text>
<path d="M48.50 326.5 L50.48 335.5 L52.50 326.5 L54.52 335.5 L56.50 326.5" fill="none" stroke="#000" stroke-width="0.95" shape-rendering="auto"/>
<rect x="63" y="327" width="1" height="9" fill="#000" />
<rect x="61" y="329" width="2" height="1" fill="#000" />
<rect x="62" y="328" width="1" height="1" fill="#000" />
<text transform="translate(68.91,369) scale(0.608,1)" font-size="14.49">J</text>
<rect x="79" y="360" width="1" height="9" fill="#000" />
<rect x="77" y="362" width="2" height="1" fill="#000" />
<rect x="78" y="361" width="1" height="1" fill="#000" />
<text transform="translate(81.92,369) scale(0.883,1)" font-size="13.04">7</text>
<text transform="translate(117.91,393) scale(0.624,1)" font-size="14.49">J</text>
<rect x="128" y="384" width="1" height="9" fill="#000" />
<rect x="126" y="386" width="2" height="1" fill="#000" />
<rect x="127" y="385" width="1" height="1" fill="#000" />
<text transform="translate(131.03,393) scale(0.910,1)" font-size="13.04">8</text>
<text transform="translate(249.58,470) scale(0.582,1)" font-size="14.49">C</text>
<text transform="translate(259.00,470) scale(0.669,1)" font-size="14.49">A</text>
<text transform="translate(267.98,470) scale(0.582,1)" font-size="14.49">C</text>
<text transform="translate(277.31,470) scale(0.678,1)" font-size="14.49">H</text>
<text transform="translate(286.82,470) scale(0.590,1)" font-size="14.49">E</text>
<text transform="translate(361.56,380) scale(0.604,1)" font-size="14.49">C</text>
<text transform="translate(371.20,380) scale(0.649,1)" font-size="14.49">A</text>
<text transform="translate(379.40,380) scale(0.550,1)" font-size="14.49">C</text>
<text transform="translate(389.54,380) scale(0.654,1)" font-size="14.49">H</text>
<text transform="translate(398.82,380) scale(0.590,1)" font-size="14.49">E</text>
<text transform="translate(448.37,405) scale(0.626,1)" font-size="14.49">B</text>
<text transform="translate(457.20,405) scale(0.690,1)" font-size="14.49">A</text>
<text transform="translate(466.51,405) scale(0.678,1)" font-size="14.49">N</text>
<text transform="translate(475.73,405) scale(0.666,1)" font-size="14.49">K</text>
<rect x="493" y="396" width="1" height="9" fill="#000" />
<rect x="491" y="398" width="2" height="1" fill="#000" />
<rect x="492" y="397" width="1" height="1" fill="#000" />
<text transform="translate(448.37,425) scale(0.626,1)" font-size="14.49">B</text>
<text transform="translate(457.20,425) scale(0.690,1)" font-size="14.49">A</text>
<text transform="translate(466.51,425) scale(0.678,1)" font-size="14.49">N</text>
<text transform="translate(475.73,425) scale(0.666,1)" font-size="14.49">K</text>
<text transform="translate(489.81,425) scale(0.751,1)" font-size="13.04">0</text>
<text transform="translate(448.37,445) scale(0.626,1)" font-size="14.49">B</text>
<text transform="translate(457.20,445) scale(0.690,1)" font-size="14.49">A</text>
<text transform="translate(466.51,445) scale(0.678,1)" font-size="14.49">N</text>
<text transform="translate(475.73,445) scale(0.666,1)" font-size="14.49">K</text>
<rect x="493" y="436" width="1" height="9" fill="#000" />
<rect x="491" y="438" width="2" height="1" fill="#000" />
<rect x="492" y="437" width="1" height="1" fill="#000" />
<text transform="translate(448.37,465) scale(0.626,1)" font-size="14.49">B</text>
<text transform="translate(457.20,465) scale(0.690,1)" font-size="14.49">A</text>
<text transform="translate(466.51,465) scale(0.678,1)" font-size="14.49">N</text>
<text transform="translate(475.73,465) scale(0.666,1)" font-size="14.49">K</text>
<text transform="translate(489.81,465) scale(0.751,1)" font-size="13.04">0</text>
<text transform="translate(448.37,485) scale(0.626,1)" font-size="14.49">B</text>
<text transform="translate(457.20,485) scale(0.690,1)" font-size="14.49">A</text>
<text transform="translate(466.51,485) scale(0.678,1)" font-size="14.49">N</text>
<text transform="translate(475.73,485) scale(0.666,1)" font-size="14.49">K</text>
<rect x="493" y="476" width="1" height="9" fill="#000" />
<rect x="491" y="478" width="2" height="1" fill="#000" />
<rect x="492" y="477" width="1" height="1" fill="#000" />
<text transform="translate(448.37,505) scale(0.626,1)" font-size="14.49">B</text>
<text transform="translate(457.20,505) scale(0.690,1)" font-size="14.49">A</text>
<text transform="translate(466.51,505) scale(0.678,1)" font-size="14.49">N</text>
<text transform="translate(475.73,505) scale(0.666,1)" font-size="14.49">K</text>
<text transform="translate(489.81,505) scale(0.751,1)" font-size="13.04">0</text>
<text transform="translate(448.37,536) scale(0.626,1)" font-size="14.49">B</text>
<text transform="translate(457.20,536) scale(0.690,1)" font-size="14.49">A</text>
<text transform="translate(466.51,536) scale(0.678,1)" font-size="14.49">N</text>
<text transform="translate(475.73,536) scale(0.666,1)" font-size="14.49">K</text>
<rect x="493" y="527" width="1" height="9" fill="#000" />
<rect x="491" y="529" width="2" height="1" fill="#000" />
<rect x="492" y="528" width="1" height="1" fill="#000" />
<text transform="translate(448.37,556) scale(0.626,1)" font-size="14.49">B</text>
<text transform="translate(457.20,556) scale(0.690,1)" font-size="14.49">A</text>
<text transform="translate(466.51,556) scale(0.678,1)" font-size="14.49">N</text>
<text transform="translate(475.73,556) scale(0.666,1)" font-size="14.49">K</text>
<text transform="translate(489.81,556) scale(0.751,1)" font-size="13.04">0</text>
<text transform="translate(548.40,618) scale(0.550,1)" font-size="14.49">C</text>
<text transform="translate(558.52,618) scale(0.588,1)" font-size="14.49">P</text>
<text transform="translate(566.62,618) scale(0.666,1)" font-size="14.49">U</text>
<text transform="translate(634.93,651) scale(0.666,1)" font-size="14.49">N</text>
<text transform="translate(644.53,651) scale(0.664,1)" font-size="14.49">P</text>
<text transform="translate(652.69,651) scale(0.702,1)" font-size="14.49">U</text>
<text transform="translate(631.65,708) scale(0.683,1)" font-size="13.04">C</text>
<text transform="translate(641.68,708) scale(0.592,1)" font-size="13.04">N</text>
<text transform="translate(648.81,708) scale(0.845,1)" font-size="11.59">5</text>
</g>
</svg>
</body></html>
